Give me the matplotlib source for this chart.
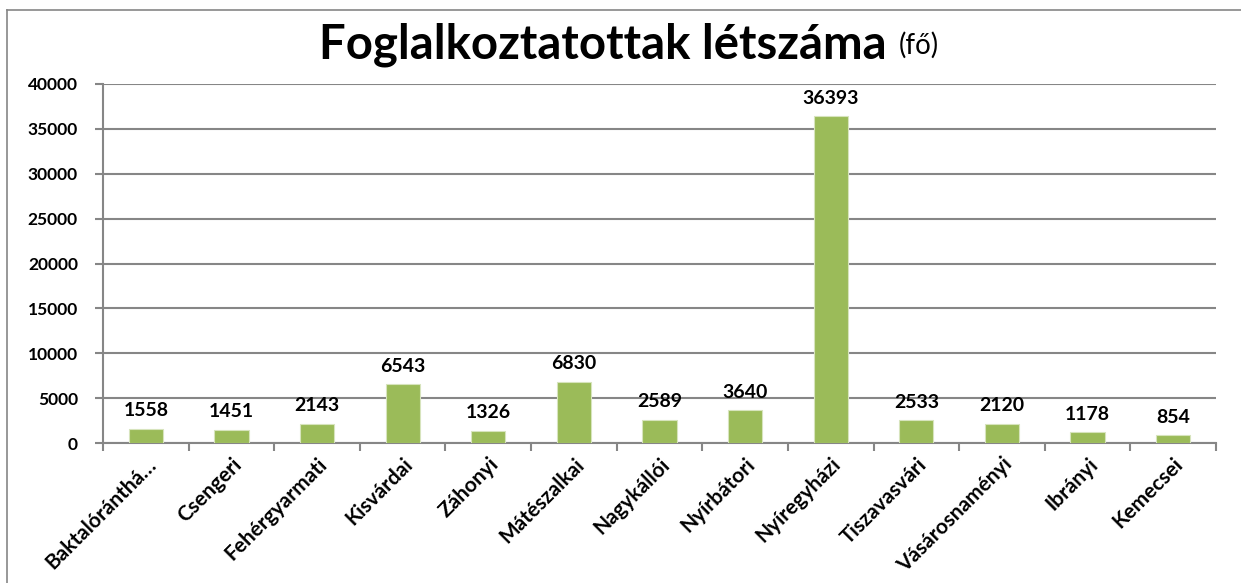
import numpy as np
import matplotlib.pyplot as plt
import matplotlib.transforms as mtransforms
from matplotlib.lines import Line2D

plt.rcParams['font.family'] = ['Lato', 'DejaVu Sans']

kisterseg = ['Baktalórántházai', 'Csengeri', 'Fehérgyarmati', 'Kisvárdai', 'Záhonyi',
             'Mátészalkai', 'Nagykállói', 'Nyírbátori', 'Nyíregyházi', 'Tiszavasvári',
             'Vásárosnaményi', 'Ibrányi', 'Kemecsei']
letszam = [1558, 1451, 2143, 6543, 1326, 6830, 2589, 3640, 36393, 2533, 2120, 1178, 854]
yticks = [0, 5000, 10000, 15000, 20000, 25000, 30000, 35000, 40000]


def short(s, n=14):
    return s if len(s) <= n else s[:n - 1] + '…'


fig = plt.figure(figsize=(12.41, 5.83), dpi=100)
ax = fig.add_axes([103 / 1241, 1 - 443 / 583, 1113 / 1241, 359 / 583])

grey = '#868686'
x = np.arange(len(kisterseg))
bars = ax.bar(x, letszam, width=0.4, color='#9BBB59', edgecolor='#D7E4BD', linewidth=0.8, zorder=3)

for xi, v in zip(x, letszam):
    ax.annotate(str(v), (xi, v), xytext=(0, 7), textcoords='offset points',
                ha='center', va='bottom', fontsize=14, fontweight='bold')

ax.set_xlim(-0.5, len(kisterseg) - 0.5)
ax.set_ylim(0, 40000)
ax.set_yticks(yticks)
ax.set_yticklabels([str(t) for t in yticks], fontsize=12.5, fontweight='bold')
ax.yaxis.grid(True, color=grey, linewidth=1.5, zorder=0)

ax.set_xticks(x)
ax.set_xticklabels([short(k) for k in kisterseg], rotation=45, ha='right',
                   rotation_mode='anchor', fontsize=15, fontweight='bold')
shift = mtransforms.ScaledTranslation(5 / 100, 0, fig.dpi_scale_trans)
for lab in ax.get_xticklabels():
    lab.set_transform(lab.get_transform() + shift)
ax.tick_params(axis='x', length=0, pad=8)
ax.set_xticks(np.arange(-0.5, len(kisterseg)), minor=True)
ax.tick_params(axis='x', which='minor', length=6, color=grey, width=1.5, direction='out')
ax.tick_params(axis='y', length=6, color=grey, width=1.5, pad=12)

for s in ['top', 'right']:
    ax.spines[s].set_visible(False)
for s in ['left', 'bottom']:
    ax.spines[s].set_color(grey)
    ax.spines[s].set_linewidth(1.5)

# chart frame
fig.add_artist(Line2D([7 / 1241, 1.0], [1 - 10 / 583, 1 - 10 / 583],
                      transform=fig.transFigure, color=grey, linewidth=1.2))
fig.add_artist(Line2D([7 / 1241, 7 / 1241], [0, 1 - 10 / 583],
                      transform=fig.transFigure, color=grey, linewidth=1.2))

title = fig.text(0.5, 1 - 45 / 583, 'Foglalkoztatottak létszáma ', ha='center', va='center',
                 fontsize=34, fontweight='bold')
fig.canvas.draw()
w_unit = fig.text(0, 0, '(fő)', fontsize=20)
wu = w_unit.get_window_extent().width
w_unit.remove()
title.set_x(629 / 1241 - wu / 2 / fig.bbox.width)
ax.annotate('(fő)', xy=(1, 0), xycoords=title, xytext=(0, 6), textcoords='offset points',
            ha='left', va='bottom', fontsize=20, annotation_clip=False)

fig.savefig('out.png', dpi=100)
